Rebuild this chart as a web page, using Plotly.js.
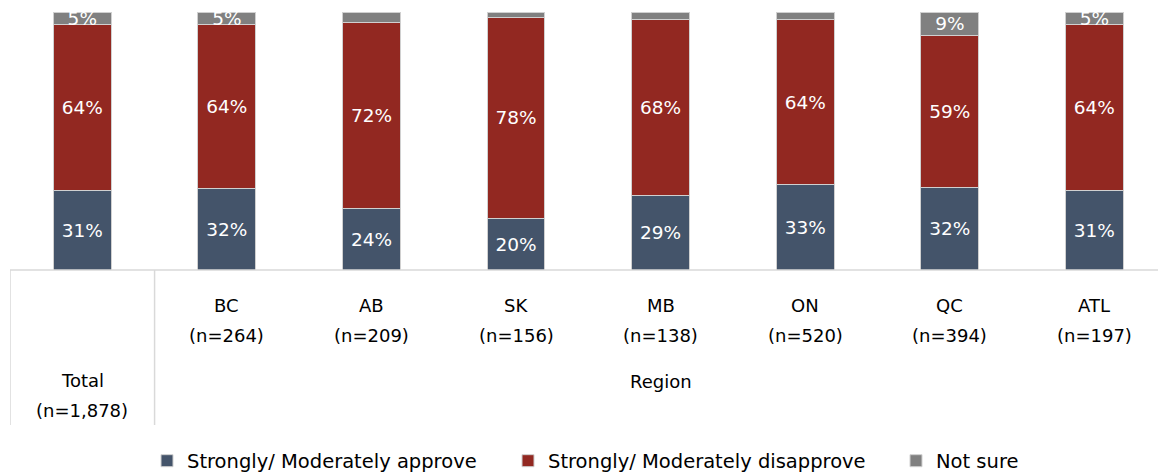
<!DOCTYPE html>
<html>
<head>
<meta charset="utf-8">
<script src="https://cdn.plot.ly/plotly-3.0.1.min.js"></script>
<style>html,body{margin:0;padding:0;background:#fff;}#chart{width:1158px;height:474px;}</style>
</head>
<body>
<div id="chart"></div>
<script>
const categories = ["Total", "BC", "AB", "SK", "MB", "ON", "QC", "ATL"];
const sampleSizes = ["(n=1,878)", "(n=264)", "(n=209)", "(n=156)", "(n=138)", "(n=520)", "(n=394)", "(n=197)"];
const approve = [31, 32, 24, 20, 29, 33, 32, 31];
const disapprove = [64, 64, 72, 78, 68, 64, 59, 64];
const notSure = [5, 5, 4, 2, 3, 3, 9, 5];
const seriesNames = ["Strongly/ Moderately approve", "Strongly/ Moderately disapprove", "Not sure"];
const groupLabel = "Region";

const FONT = "DejaVu Sans, sans-serif";
const xs = categories.map((c, i) => i);
const lbl = arr => arr.map(v => v >= 5 ? v + "%" : "");

function barTrace(name, vals, color, legendId) {
  return {
    type: "bar", name: name, x: xs, y: vals, legend: legendId,
    text: lbl(vals), texttemplate: "%{text}", textposition: "inside",
    insidetextanchor: "middle", textangle: 0, constraintext: "none",
    textfont: {family: FONT, size: 18.5, color: "#ffffff"},
    marker: {color: color, line: {color: "#d0d0d0", width: 1}},
    hoverinfo: "skip", cliponaxis: false
  };
}

const data = [
  barTrace(seriesNames[0], approve, "#44546A", "legend"),
  barTrace(seriesNames[1], disapprove, "#922821", "legend2"),
  barTrace(seriesNames[2], notSure, "#808080", "legend3")
];

const annotations = [];
categories.forEach((c, i) => {
  const base = i === 0 ? -110 : -35;
  annotations.push({xref: "x", yref: "paper", x: i, y: 0, yanchor: "middle", yshift: base,
    text: c, showarrow: false, font: {family: FONT, size: 18, color: "#000"}});
  annotations.push({xref: "x", yref: "paper", x: i, y: 0, yanchor: "middle", yshift: base - 30,
    text: sampleSizes[i], showarrow: false, font: {family: FONT, size: 18, color: "#000"}});
});
annotations.push({xref: "x", yref: "paper", x: (1 + categories.length - 1) / 2, y: 0, yanchor: "middle", yshift: -111,
  text: groupLabel, showarrow: false, font: {family: FONT, size: 18, color: "#000"}});

const lineStyle = {color: "#d9d9d9", width: 1.5};
const tableBottom = -(425 - 270) / 258;
const shapes = [
  {type: "line", xref: "paper", yref: "paper", x0: 0, x1: 1, y0: 0, y1: 0, line: lineStyle},
  {type: "line", xref: "x", yref: "paper", x0: -0.5, x1: -0.5, y0: 0, y1: tableBottom, line: lineStyle},
  {type: "line", xref: "x", yref: "paper", x0: 0.5, x1: 0.5, y0: 0, y1: tableBottom, line: lineStyle}
];

function legendAt(leftPx) {
  return {orientation: "h", xref: "container", yref: "container", x: leftPx / 1158, xanchor: "left",
    y: (474 - 461) / 474, yanchor: "middle", bgcolor: "rgba(0,0,0,0)",
    font: {family: FONT, size: 19.5, color: "#000"}, itemwidth: 30};
}

const layout = {
  width: 1158, height: 474,
  margin: {l: 10, r: 0, t: 12, b: 204, autoexpand: false},
  barmode: "stack", barnorm: "percent", bargap: 0.6,
  paper_bgcolor: "#ffffff", plot_bgcolor: "#ffffff",
  font: {family: FONT, size: 18, color: "#000"},
  xaxis: {range: [-0.5, 7.44], showticklabels: false, showgrid: false, zeroline: false, showline: false, ticks: "", fixedrange: true},
  yaxis: {range: [0, 100], visible: false, showgrid: false, zeroline: false, fixedrange: true},
  showlegend: true,
  legend: legendAt(147),
  legend2: legendAt(508),
  legend3: legendAt(896),
  annotations: annotations,
  shapes: shapes
};

Plotly.newPlot("chart", data, layout, {displayModeBar: false, staticPlot: true});
</script>
</body>
</html>
